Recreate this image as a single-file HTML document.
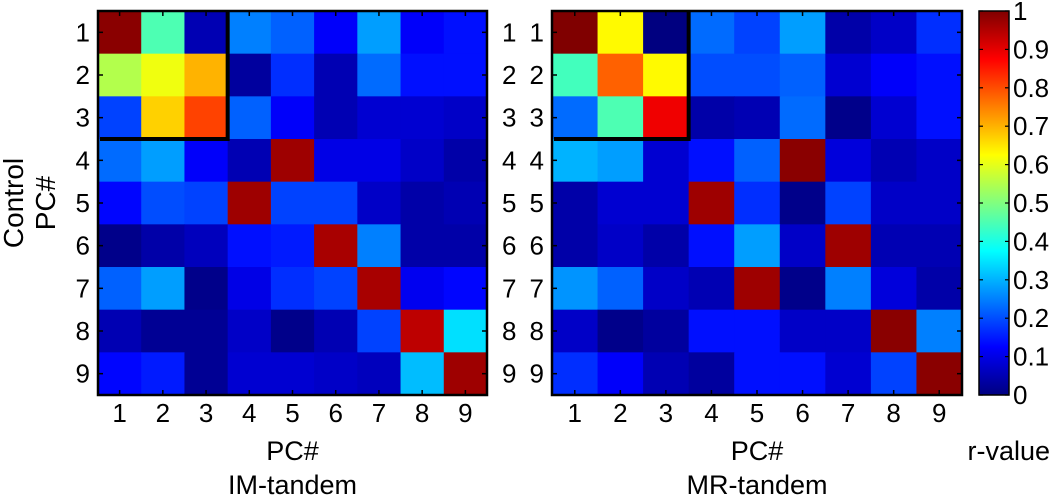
<!DOCTYPE html>
<html><head><meta charset="utf-8"><style>
html,body{margin:0;padding:0;background:#fff}
svg{display:block;font-family:"Liberation Sans",Arial,sans-serif}
</style></head><body>
<svg id="chart" width="1050" height="497" viewBox="0 0 1050 497"></svg>
<script>
const pcLabels=["1","2","3","4","5","6","7","8","9"];
const imTandemValues=[
[0.99,0.45,0.05,0.25,0.22,0.12,0.28,0.12,0.14],
[0.55,0.61,0.70,0.03,0.17,0.05,0.23,0.14,0.14],
[0.19,0.67,0.81,0.22,0.12,0.05,0.08,0.08,0.07],
[0.23,0.28,0.12,0.05,0.97,0.10,0.10,0.07,0.04],
[0.13,0.20,0.19,0.97,0.19,0.19,0.07,0.04,0.05],
[0.01,0.04,0.06,0.14,0.15,0.96,0.25,0.04,0.04],
[0.22,0.28,0.01,0.10,0.17,0.19,0.96,0.11,0.13],
[0.05,0.02,0.02,0.07,0.01,0.05,0.19,0.94,0.345],
[0.13,0.15,0.02,0.08,0.08,0.07,0.06,0.31,0.97]];
const mrTandemValues=[
[1.00,0.63,0.00,0.23,0.19,0.28,0.04,0.07,0.17],
[0.44,0.78,0.63,0.20,0.20,0.22,0.08,0.12,0.14],
[0.23,0.45,0.89,0.04,0.05,0.23,0.01,0.08,0.14],
[0.30,0.28,0.08,0.14,0.22,0.99,0.09,0.05,0.07],
[0.04,0.08,0.08,0.97,0.17,0.01,0.19,0.07,0.07],
[0.04,0.07,0.04,0.14,0.28,0.07,0.97,0.05,0.05],
[0.27,0.22,0.07,0.05,0.97,0.01,0.25,0.09,0.04],
[0.07,0.01,0.03,0.14,0.14,0.07,0.07,0.99,0.25],
[0.17,0.12,0.05,0.03,0.14,0.14,0.08,0.19,0.99]];
const colorbarTicks=[0,0.1,0.2,0.3,0.4,0.5,0.6,0.7,0.8,0.9,1];
const colorbarTickLabels=["0","0.1","0.2","0.3","0.4","0.5","0.6","0.7","0.8","0.9","1"];

const NS="http://www.w3.org/2000/svg";
const svg=document.getElementById('chart');
function mk(tag,attrs,parent){const e=document.createElementNS(NS,tag);for(const k in attrs)e.setAttribute(k,attrs[k]);(parent||svg).appendChild(e);return e;}
function cl(x){return Math.max(0,Math.min(1,x));}
function jet(v){const r=cl(1.5-Math.abs(4*v-3)),g=cl(1.5-Math.abs(4*v-2)),b=cl(1.5-Math.abs(4*v-1));
 return `rgb(${Math.round(r*255)},${Math.round(g*255)},${Math.round(b*255)})`;}

function heatmap(name,data,x0,x1,y0,y1,rightLabels,title){
 const g=mk('g',{},svg);
 
 
 const n=pcLabels.length,cw=(x1-x0)/n,ch=(y1-y0)/n;
 const xs=i=>x0+i*cw, ys=j=>y0+j*ch;
 data.forEach((row,j)=>row.forEach((v,i)=>{
  const r=mk('rect',{x:xs(i),y:ys(j),width:cw+0.6,height:ch+0.6,fill:jet(v)},g);
  
  
 }));
 const frame=mk('rect',{x:x0,y:y0,width:x1-x0,height:y1-y0,fill:'none',stroke:'#000','stroke-width':2.5},g);
 
 
 pcLabels.forEach((lab,i)=>{
  const cx=xs(i)+cw/2, cy=ys(i)+ch/2;
  mk('line',{x1:cx,x2:cx,y1:y1,y2:y1-5,stroke:'#000','stroke-width':1.5},g);
  mk('line',{x1:cx,x2:cx,y1:y0,y2:y0+5,stroke:'#000','stroke-width':1.5},g);
  mk('line',{x1:x0,x2:x0+5,y1:cy,y2:cy,stroke:'#000','stroke-width':1.5},g);
  mk('line',{x1:x1,x2:x1-5,y1:cy,y2:cy,stroke:'#000','stroke-width':1.5},g);
  const tx=mk('text',{x:cx,y:y1+27,'font-size':26,'text-anchor':'middle'},g);tx.textContent=lab;
  
  
  const ty=mk('text',{x:x0-8,y:cy+9,'font-size':26,'text-anchor':'end'},g);ty.textContent=lab;
  
  
  if(rightLabels){const tr=mk('text',{x:x1+15,y:cy+9,'font-size':26,'text-anchor':'start'},g);tr.textContent=lab;
   
   }
 });
 const bx=xs(3), by=ys(3);
 const box=mk('path',{d:`M${bx},${y0} L${bx},${by} L${x0+2},${by}`,fill:'none',stroke:'#000','stroke-width':4},g);
 
 
 const t1=mk('text',{x:(x0+x1)/2,y:460,'font-size':27,'text-anchor':'middle'},g);t1.textContent='PC#';
 
 
 const t2=mk('text',{x:(x0+x1)/2,y:494,'font-size':27,'text-anchor':'middle'},g);t2.textContent=title;
 
 
}
heatmap('im-tandem-heatmap',imTandemValues,98,487,11,395,true,'IM-tandem');
heatmap('mr-tandem-heatmap',mrTandemValues,552,962,11,395,false,'MR-tandem');

const yt=mk('text',{transform:'translate(23,203) rotate(-90)','font-size':28,'text-anchor':'middle'});


const ts1=mk('tspan',{x:0,dy:0},yt);ts1.textContent='Control';
const ts2=mk('tspan',{x:0,dy:32},yt);ts2.textContent='PC#';

const cb=mk('g',{});


const cx0=979,cx1=1009,cy0=11,cy1=395;
const defs=mk('defs',{},svg);
const lg=mk('linearGradient',{id:'jetg',x1:0,y1:1,x2:0,y2:0},defs);
for(let k=0;k<=32;k++){const v=k/32;mk('stop',{offset:v,'stop-color':jet(v)},lg);}
const cbr=mk('rect',{x:cx0,y:cy0,width:cx1-cx0,height:cy1-cy0,fill:'url(#jetg)',stroke:'#000','stroke-width':1.5},cb);


const cyv=v=>cy1-v*(cy1-cy0);
colorbarTicks.forEach((v,k)=>{
 const y=cyv(v);
 mk('line',{x1:cx0,x2:cx0+4,y1:y,y2:y,stroke:'#000','stroke-width':1.2},cb);
 mk('line',{x1:cx1,x2:cx1-4,y1:y,y2:y,stroke:'#000','stroke-width':1.2},cb);
 const t=mk('text',{x:1013,y:y+9,'font-size':26},cb);t.textContent=colorbarTickLabels[k];
 
 
});
const cbt=mk('text',{x:1050,y:460,'font-size':27,'text-anchor':'end'},cb);cbt.textContent='r-value';


</script>
</body></html>
